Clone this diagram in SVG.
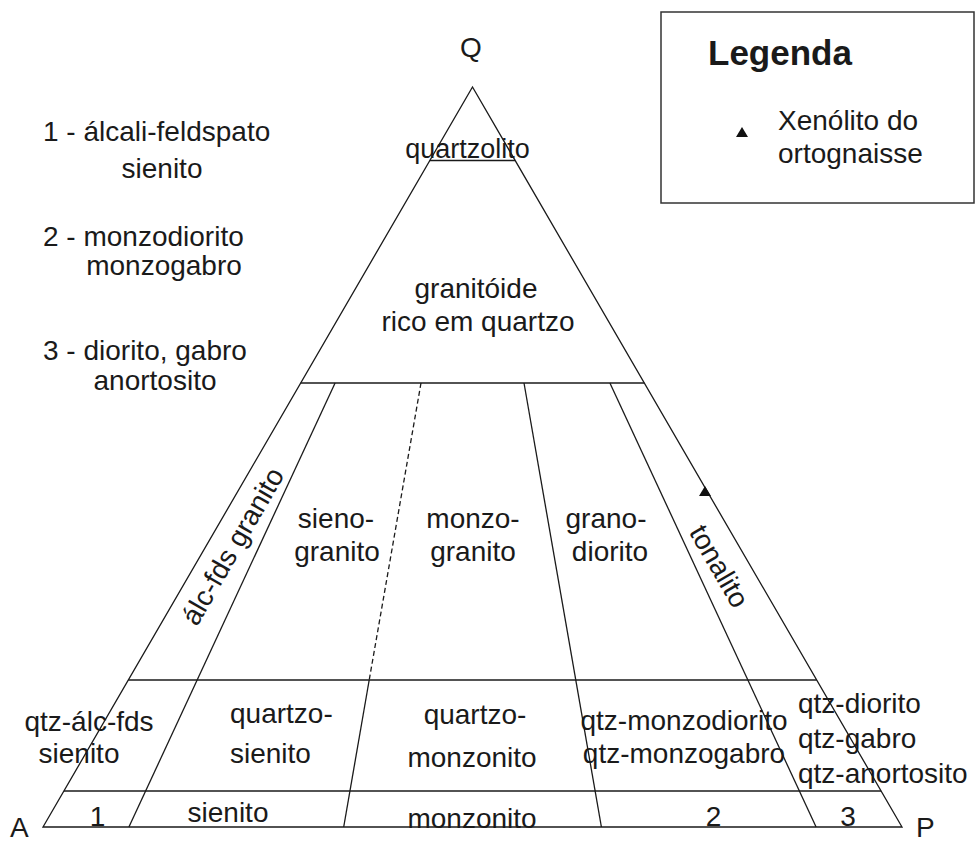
<svg xmlns="http://www.w3.org/2000/svg" width="978" height="844" viewBox="0 0 978 844">
<style>
  .ln { stroke: #1a1a1a; stroke-width: 1.3; fill: none; }
  .dash { stroke-dasharray: 5 3; }
  text { font-family: "Liberation Sans", Arial, sans-serif; font-size: 28px; fill: #1a1a1a; }
  .m { text-anchor: middle; }
  .bold { font-weight: bold; font-size: 35px; }
</style>
<rect width="978" height="844" fill="#ffffff"/>

<g id="grid">
  <polygon class="ln" points="472.5,87 902,827 43,827"/>
  <line class="ln" x1="429.8" y1="160.5" x2="515.2" y2="160.5"/>
  <line class="ln" x1="300.7" y1="383" x2="644.3" y2="383"/>
  <line class="ln" x1="128.3" y1="680" x2="816.7" y2="680"/>
  <line class="ln" x1="63.9" y1="791" x2="881.1" y2="791"/>
  <line class="ln" x1="335.1" y1="383" x2="128.9" y2="827"/>
  <line class="ln dash" x1="421.0" y1="383" x2="369.2" y2="680"/>
  <line class="ln" x1="369.2" y1="680" x2="343.7" y2="827"/>
  <line class="ln" x1="524.0" y1="383" x2="601.4" y2="827"/>
  <line class="ln" x1="609.9" y1="383" x2="816.1" y2="827"/>
</g>

<g id="vertices">
  <text x="471" y="57" class="m">Q</text>
  <text x="10" y="837">A</text>
  <text x="916" y="837">P</text>
</g>

<g id="fields">
  <text x="467.5" y="158" class="m" style="font-size:27px">quartzolito</text>
  <text x="476" y="298" class="m">granitóide</text>
  <text x="478" y="331" class="m">rico em quartzo</text>
  <text x="241" y="551" class="m" transform="rotate(-60 241 551)">álc-fds granito</text>
  <text x="336" y="528" class="m">sieno-</text>
  <text x="337" y="561" class="m">granito</text>
  <text x="473" y="528" class="m">monzo-</text>
  <text x="473" y="561" class="m">granito</text>
  <text x="606" y="528" class="m">grano-</text>
  <text x="610" y="561" class="m">diorito</text>
  <text x="711" y="571" class="m" transform="rotate(60 711 571)">tonalito</text>
  <text x="89" y="731" class="m">qtz-álc-fds</text>
  <text x="79" y="763" class="m">sienito</text>
  <text x="230" y="723">quartzo-</text>
  <text x="230" y="763">sienito</text>
  <text x="475" y="724" class="m">quartzo-</text>
  <text x="472" y="767" class="m">monzonito</text>
  <text x="684" y="730" class="m">qtz-monzodiorito</text>
  <text x="684" y="763" class="m">qtz-monzogabro</text>
  <text x="798" y="713">qtz-diorito</text>
  <text x="798" y="748">qtz-gabro</text>
  <text x="798" y="783">qtz-anortosito</text>
  <text x="97.5" y="826" class="m">1</text>
  <text x="228" y="822" class="m">sienito</text>
  <text x="472" y="828" class="m">monzonito</text>
  <text x="713.5" y="826" class="m">2</text>
  <text x="848" y="826" class="m">3</text>
</g>

<g id="sample">
  <polygon points="705,486 699,496 711,496" fill="#111"/>
</g>

<g id="notes">
  <text x="43" y="141">1 - álcali-feldspato</text>
  <text x="162" y="178" class="m">sienito</text>
  <text x="43" y="246">2 - monzodiorito</text>
  <text x="164" y="275" class="m">monzogabro</text>
  <text x="43" y="360">3 - diorito, gabro</text>
  <text x="155" y="390" class="m">anortosito</text>
</g>

<g id="legend">
  <rect x="661" y="12" width="313" height="191" fill="#ffffff" stroke="#333" stroke-width="1.5"/>
  <text x="708" y="65" class="bold">Legenda</text>
  <polygon points="742,127 736,137 748,137" fill="#111"/>
  <text x="778" y="130">Xenólito do</text>
  <text x="778" y="163">ortognaisse</text>
</g>
</svg>
